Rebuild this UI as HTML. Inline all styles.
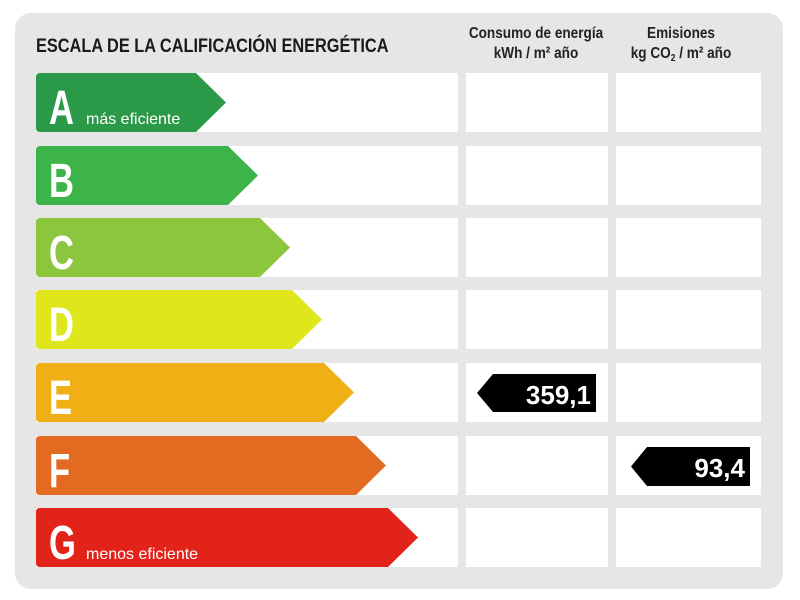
<!DOCTYPE html>
<html><head><meta charset="utf-8"><style>
html,body{margin:0;padding:0;background:#fff;width:800px;height:600px;overflow:hidden}
text{font-family:"Liberation Sans",sans-serif}
</style></head><body>
<svg width="800" height="600" viewBox="0 0 800 600" xmlns="http://www.w3.org/2000/svg">
<rect x="15" y="13" width="768" height="576" rx="16" fill="#e6e6e6"/>
<text x="36" y="52" font-size="19" font-weight="bold" fill="#1a1a1a" transform="translate(36 0) scale(0.86 1) translate(-36 0)">ESCALA DE LA CALIFICACIÓN ENERGÉTICA</text>
<g font-size="16" font-weight="bold" fill="#222" text-anchor="middle">
<text x="536" y="38" transform="translate(536 0) scale(0.85 1) translate(-536 0)">Consumo de energía</text>
<text x="536" y="58" transform="translate(536 0) scale(0.85 1) translate(-536 0)">kWh / m² año</text>
<text x="681" y="38" transform="translate(681 0) scale(0.85 1) translate(-681 0)">Emisiones</text>
<text x="681" y="58" transform="translate(681 0) scale(0.85 1) translate(-681 0)">kg CO<tspan font-size="10" dy="3">2</tspan><tspan dy="-3"> / m² año</tspan></text>
</g>
<g fill="#fff">
<rect x="36" y="73" width="422" height="59"/><rect x="466" y="73" width="142" height="59"/><rect x="616" y="73" width="145" height="59"/>
<rect x="36" y="146" width="422" height="59"/><rect x="466" y="146" width="142" height="59"/><rect x="616" y="146" width="145" height="59"/>
<rect x="36" y="218" width="422" height="59"/><rect x="466" y="218" width="142" height="59"/><rect x="616" y="218" width="145" height="59"/>
<rect x="36" y="290" width="422" height="59"/><rect x="466" y="290" width="142" height="59"/><rect x="616" y="290" width="145" height="59"/>
<rect x="36" y="363" width="422" height="59"/><rect x="466" y="363" width="142" height="59"/><rect x="616" y="363" width="145" height="59"/>
<rect x="36" y="436" width="422" height="59"/><rect x="466" y="436" width="142" height="59"/><rect x="616" y="436" width="145" height="59"/>
<rect x="36" y="508" width="422" height="59"/><rect x="466" y="508" width="142" height="59"/><rect x="616" y="508" width="145" height="59"/>
</g>
<g>
<path d="M40 73 H196 L226 102.5 L196 132 H40 Q36 132 36 128 V77 Q36 73 40 73Z" fill="#2a9a48"/>
<path d="M40 146 H228 L258 175.5 L228 205 H40 Q36 205 36 201 V150 Q36 146 40 146Z" fill="#3cb449"/>
<path d="M40 218 H260 L290 247.5 L260 277 H40 Q36 277 36 273 V222 Q36 218 40 218Z" fill="#8cc63f"/>
<path d="M40 290 H292 L322 319.5 L292 349 H40 Q36 349 36 345 V294 Q36 290 40 290Z" fill="#e0e61c"/>
<path d="M40 363 H324 L354 392.5 L324 422 H40 Q36 422 36 418 V367 Q36 363 40 363Z" fill="#efaf15"/>
<path d="M40 436 H356 L386 465.5 L356 495 H40 Q36 495 36 491 V440 Q36 436 40 436Z" fill="#e36b21"/>
<path d="M40 508 H388 L418 537.5 L388 567 H40 Q36 567 36 563 V512 Q36 508 40 508Z" fill="#e2231a"/>
</g>
<g fill="#fff" font-weight="bold" font-size="48">
<text x="49" y="124" transform="translate(49 0) scale(0.72 1) translate(-49 0)">A</text>
<text x="49" y="197" transform="translate(49 0) scale(0.72 1) translate(-49 0)">B</text>
<text x="49" y="269" transform="translate(49 0) scale(0.72 1) translate(-49 0)">C</text>
<text x="49" y="341" transform="translate(49 0) scale(0.72 1) translate(-49 0)">D</text>
<text x="49" y="414" transform="translate(49 0) scale(0.72 1) translate(-49 0)">E</text>
<text x="49" y="487" transform="translate(49 0) scale(0.72 1) translate(-49 0)">F</text>
<text x="49" y="559" transform="translate(49 0) scale(0.72 1) translate(-49 0)">G</text>
</g>
<text x="86" y="124" fill="#fff" font-size="16">más eficiente</text>
<text x="86" y="559" fill="#fff" font-size="16">menos eficiente</text>
<path d="M493 374 H596 V412 H493 L477 393Z" fill="#000"/>
<text x="591" y="404" fill="#fff" font-size="26" font-weight="bold" text-anchor="end">359,1</text>
<path d="M647 447 H750 V486 H647 L631 466.5Z" fill="#000"/>
<text x="745" y="477" fill="#fff" font-size="26" font-weight="bold" text-anchor="end">93,4</text>
</svg>
</body></html>
